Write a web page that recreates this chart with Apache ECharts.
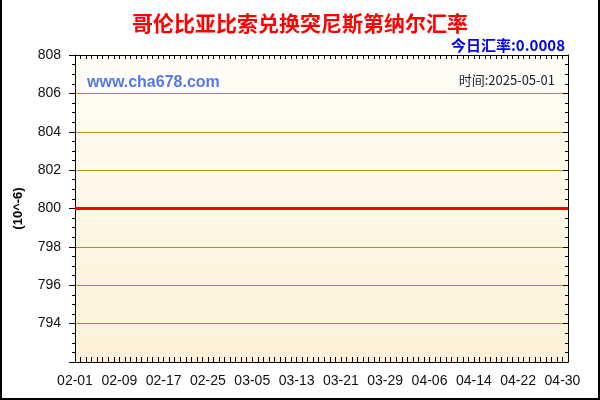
<!DOCTYPE html>
<html>
<head>
<meta charset="utf-8">
<script src="https://cdn.jsdelivr.net/npm/echarts@6/dist/echarts.min.js"></script>
<style>
html, body { margin: 0; padding: 0; background: #fff; }
#chart { width: 600px; height: 400px; }
</style>
</head>
<body>
<div id="chart"></div>
<script>
// 日期 02-01 .. 05-01
const dates = [
'02-01','02-02','02-03','02-04','02-05','02-06','02-07','02-08','02-09','02-10',
'02-11','02-12','02-13','02-14','02-15','02-16','02-17','02-18','02-19','02-20',
'02-21','02-22','02-23','02-24','02-25','02-26','02-27','02-28','03-01','03-02',
'03-03','03-04','03-05','03-06','03-07','03-08','03-09','03-10','03-11','03-12',
'03-13','03-14','03-15','03-16','03-17','03-18','03-19','03-20','03-21','03-22',
'03-23','03-24','03-25','03-26','03-27','03-28','03-29','03-30','03-31','04-01',
'04-02','04-03','04-04','04-05','04-06','04-07','04-08','04-09','04-10','04-11',
'04-12','04-13','04-14','04-15','04-16','04-17','04-18','04-19','04-20','04-21',
'04-22','04-23','04-24','04-25','04-26','04-27','04-28','04-29','04-30','05-01'
];
// 汇率 (10^-6)
const rates = [
800,800,800,800,800,800,800,800,800,800,
800,800,800,800,800,800,800,800,800,800,
800,800,800,800,800,800,800,800,800,800,
800,800,800,800,800,800,800,800,800,800,
800,800,800,800,800,800,800,800,800,800,
800,800,800,800,800,800,800,800,800,800,
800,800,800,800,800,800,800,800,800,800,
800,800,800,800,800,800,800,800,800,800,
800,800,800,800,800,800,800,800,800,800
];
const yMin = 792, yMax = 808, yStep = 2;

const chart = echarts.init(document.getElementById('chart'));
const labelFont = { color: '#111', fontSize: 14, fontFamily: 'Liberation Sans, Arial' };

const option = {
animation: false,
title: [
{
text: '哥伦比亚比索兑换突尼斯第纳尔汇率',
left: 'center', top: 8,
textStyle: { color: '#ff0000', fontSize: 21, fontWeight: 'bold', fontFamily: 'Noto Sans CJK SC' }
},
{
text: '今日汇率:0.0008',
right: 30, top: 33,
textStyle: { color: '#0000ee', fontSize: 15, fontWeight: 'bold', fontFamily: 'Noto Sans CJK SC' }
}
],
grid: { left: 75, right: 32, top: 55, bottom: 38 },
xAxis: [
{
type: 'category',
data: dates,
boundaryGap: false,
axisLine: { lineStyle: { color: '#000', width: 1 } },
axisTick: { show: true, inside: true, length: 5, interval: 0, lineStyle: { color: '#000' } },
axisLabel: Object.assign({ interval: 7, margin: 12 }, labelFont),
splitLine: { show: false }
},
{
type: 'category',
data: dates,
boundaryGap: false,
position: 'top',
axisLine: { lineStyle: { color: '#000', width: 1 } },
axisTick: { show: true, inside: true, length: 4, interval: 0, lineStyle: { color: '#000' } },
axisLabel: { show: false },
splitLine: { show: false }
}
],
yAxis: [
{
type: 'value',
min: yMin, max: yMax, interval: yStep,
name: '(10^-6)',
nameLocation: 'middle',
nameGap: 50,
nameTextStyle: { color: '#000', fontSize: 13, fontWeight: 'bold', fontFamily: 'Liberation Sans, Arial' },
axisLine: { show: true, lineStyle: { color: '#000' } },
axisTick: { show: true, length: 6, lineStyle: { color: '#000' } },
minorTick: { show: true, splitNumber: 4, length: 3, lineStyle: { color: '#000' } },
axisLabel: Object.assign({
margin: 14,
formatter: v => (v === yMin ? '' : String(v))
}, labelFont),
splitLine: { show: true, lineStyle: { color: '#bf8c10', width: 1 } },
splitArea: { show: false }
},
{
type: 'value',
min: yMin, max: yMax, interval: yStep,
position: 'right',
axisLine: { show: true, lineStyle: { color: '#000' } },
axisTick: { show: true, inside: true, length: 5, lineStyle: { color: '#000' } },
minorTick: { show: true, splitNumber: 4, length: 3, lineStyle: { color: '#000' } },
axisLabel: { show: false },
splitLine: { show: false }
}
],
graphic: [
{
type: 'rect', z: -10, silent: true,
shape: { x: 75, y: 55, width: 493, height: 307 },
style: {
fill: new echarts.graphic.LinearGradient(0, 0, 0, 1, [
{ offset: 0, color: '#fffef5' },
{ offset: 1, color: '#fdf1d8' }
])
}
},
{ type: 'line', shape: { x1: 1, y1: 0, x2: 1, y2: 399 }, style: { stroke: '#000', lineWidth: 2 } },
{ type: 'line', shape: { x1: 599, y1: 0, x2: 599, y2: 399 }, style: { stroke: '#000', lineWidth: 2 } },
{ type: 'line', shape: { x1: 0, y1: 399, x2: 600, y2: 399 }, style: { stroke: '#000', lineWidth: 2 } },
{
type: 'text', left: 85, top: 73, z: 100,
style: {
text: 'www.cha678.com', fill: '#5577ee',
font: 'bold 16px "Liberation Sans", Arial',
backgroundColor: '#fff', padding: [2, 2]
}
},
{
type: 'text', right: 43, top: 73, z: 100,
style: {
text: '时间:2025-05-01', fill: '#222',
font: '13px "Noto Sans CJK SC"',
backgroundColor: '#fff', padding: [1, 2]
}
}
],
series: [
{
type: 'line',
data: rates,
symbol: 'none',
lineStyle: { color: '#ff0000', width: 3 },
z: 5
}
]
};
chart.setOption(option);
</script>
</body>
</html>
